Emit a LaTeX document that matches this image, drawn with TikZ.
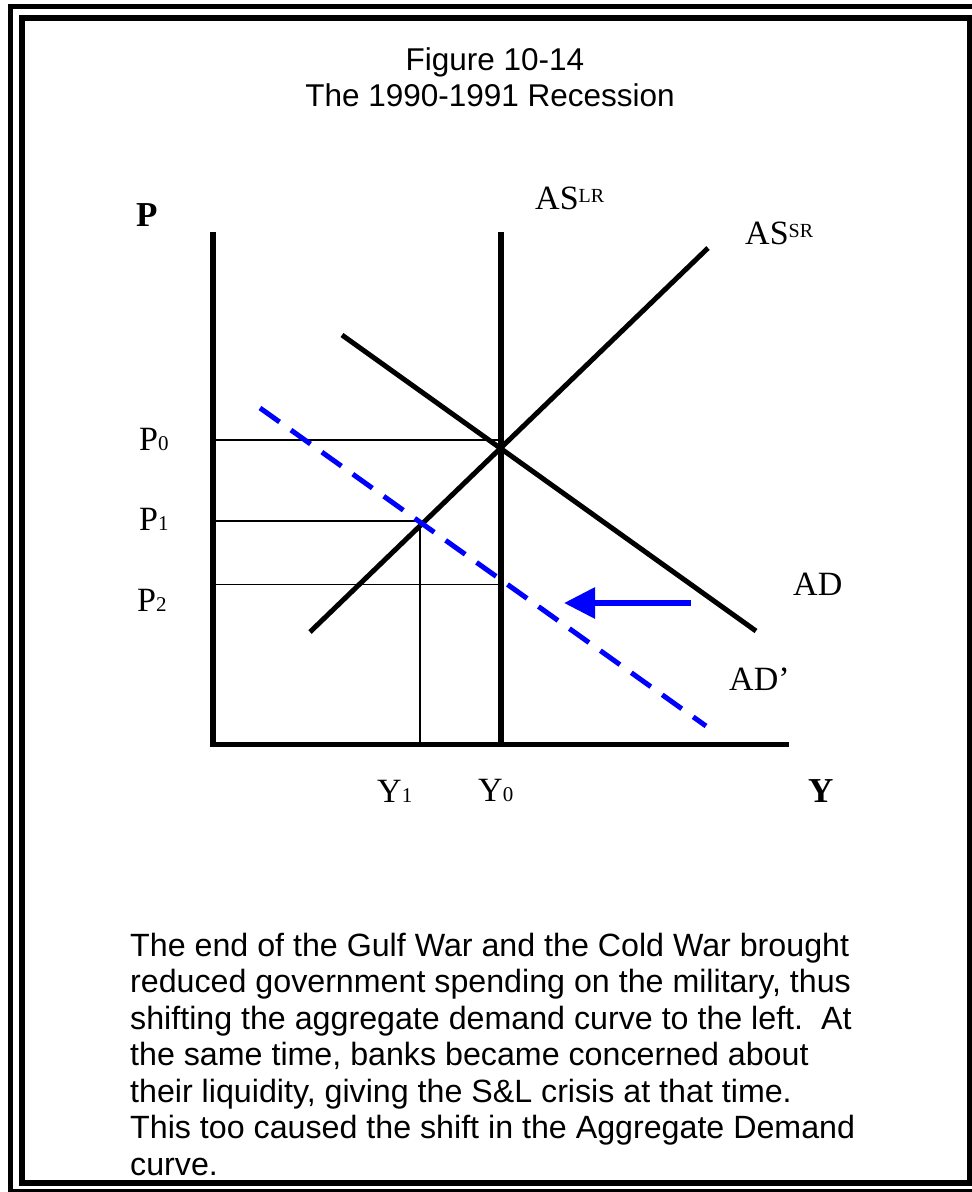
\documentclass[tikz,border=0pt]{standalone}
\usepackage{fontspec}
\setmainfont{Liberation Serif}
\newfontfamily\arialfont{Liberation Sans}
\usetikzlibrary{arrows.meta, positioning, calc}

\newcommand{\smalldig}[1]{{\fontsize{21}{21}\selectfont #1}}
\newcommand{\supr}[1]{\raisebox{7pt}{\fontsize{20}{20}\selectfont #1}}

\begin{document}
\begin{tikzpicture}[x=1pt, y=-1pt,
        guide/.style={line width=1.4pt},
        curve/.style={line width=5pt},
        shifted/.style={line width=5pt, blue, dash pattern=on 24pt off 14pt},
        shiftarr/.style={line width=6pt, blue, -{Triangle[length=31pt, width=30pt]}},
        lab/.style={anchor=base west, inner sep=0pt, font=\fontsize{34}{34}\selectfont},
        axlab/.style={anchor=base west, inner sep=0pt, font=\fontsize{35}{35}\selectfont\bfseries},
        title/.style={anchor=base, inner sep=0pt, font=\arialfont\fontsize{31.5}{31.5}\selectfont},
        para/.style={anchor=base west, inner sep=0pt, font=\arialfont\fontsize{32.2}{32.2}\selectfont}
    ]
        \useasboundingbox (0,0) rectangle (972,1192);

        % frames
        \draw[line width=5pt] (10.5,6.5) rectangle (990,1191.5);
        \draw[line width=6pt] (22,18) rectangle (970,1183);

        % title
        \node[title] (fig) at (495,70) {Figure 10-14};
        \node[title] (rec) at (490,106) {The 1990-1991 Recession};

        % axes
        \coordinate (O) at (213,744.5);
        \coordinate (Ptop) at (213,232);
        \coordinate (Yend) at (789,744.5);
        \draw[line width=6pt] (Ptop) -- (O);
        \draw[line width=5pt] ($(O)+(-3,0)$) -- (Yend);

        % curves
        \coordinate (LRtop) at (501,232);
        \coordinate (LRbot) at (501,744.5);
        \coordinate (SRlo) at (310,632);
        \coordinate (SRhi) at (708,248);
        \coordinate (ADhi) at (342,335);
        \coordinate (ADlo) at (756,631);
        \coordinate (ADphi) at (260,408);
        \coordinate (ADplo) at (706,726);

        % guide lines
        \coordinate (P0a) at (213,440);
        \coordinate (E0) at (501,440);
        \coordinate (P1a) at (213,521);
        \coordinate (E1) at (420,521);
        \coordinate (Y1a) at (420,744.5);
        \coordinate (P2a) at (213,584.5);
        \coordinate (P2b) at (501,584.5);
        \draw[guide] (P0a) -- (E0);
        \draw[guide] (P1a) -- (E1) -- (Y1a);
        \draw[guide] (P2a) -- (P2b);

        \draw[line width=6pt] (LRtop) -- (LRbot);
        \draw[curve] (SRlo) -- (SRhi);
        \draw[curve] (ADhi) -- (ADlo);
        \draw[shifted] (ADphi) -- (ADplo);

        % shift arrow
        \coordinate (arrS) at (691,603);
        \coordinate (arrE) at (564,603);
        \draw[shiftarr] (arrS) -- (arrE);

        % labels
        \node[axlab] (Plab) at (136,226.5) {P};
        \node[axlab] (Ylab) at (808,802.5) {Y};
        \node[lab] (P0) at (139,450.5) {P\smalldig{0}};
        \node[lab] (P1) at (139,530.5) {P\smalldig{1}};
        \node[lab] (P2) at (137,611.5) {P\smalldig{2}};
        \node[lab] (Y1) at (377,802.5) {Y\smalldig{1}};
        \node[lab] (Y0) at (478,801) {Y\smalldig{0}};
        \node[lab] (ASLR) at (535,209) {AS\supr{LR}};
        \node[lab] (ASSR) at (745,244) {AS\supr{SR}};
        \node[lab] (AD) at (793,595) {AD};
        \node[lab] (ADp) at (729,690.5) {AD'};

        % caption
        \foreach \ln [count=\i from 0] in {%
            {The end of the Gulf War and the Cold War brought},
            {reduced government spending on the military, thus},
            {shifting the aggregate demand curve to the left.\ \ At},
            {the same time, banks became concerned about},
            {their liquidity, giving the S\&L crisis at that time.},
            {This too caused the shift in the Aggregate Demand},
            {curve.}}
            \node[para] (cap\i) at (130,{956+36.5*\i}) {\ln};
    \end{tikzpicture}
\end{document}
